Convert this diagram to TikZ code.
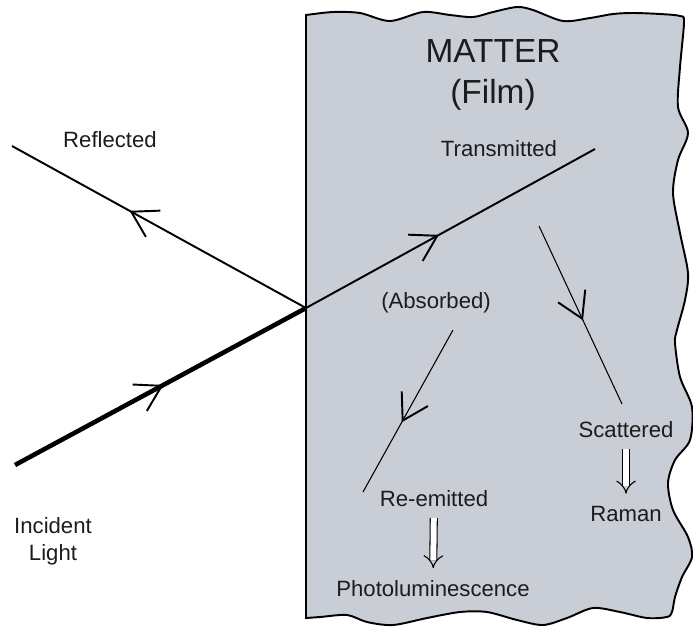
\documentclass[tikz,border=0pt]{standalone}
\usepackage{fontspec}
\setmainfont{Liberation Sans}
\usetikzlibrary{arrows.meta,decorations.markings}
\definecolor{filmGray}{RGB}{201,205,214}
\definecolor{inkGray}{RGB}{28,28,28}

\begin{document}
\begin{tikzpicture}[x=0.02cm, y=-0.02cm,
    labelStyle/.style={font=\fontsize{12.6}{15.3}\selectfont, text=inkGray, inner sep=2pt},
    titleStyle/.style={font=\fontsize{19}{23.8}\selectfont, text=inkGray, align=center},
    rayStyle/.style={draw=black, line width=1.1pt},
    beamStyle/.style={draw=black, line width=2.6pt},
    thinStyle/.style={draw=black, line width=0.6pt},
    tipStyle/.style={postaction={decorate}, decoration={markings, mark=at position #1 with {\arrow{Straight Barb[length=0.5cm, width=0.6cm, line width=1.1pt 0]}}}},
    dblStyle/.style={double, double distance=3.4pt, line width=0.6pt, arrows={-Implies}, shorten <=4pt, shorten >=5pt}]

    \useasboundingbox (0,0) rectangle (693,630);

    % the film
    \draw[fill=filmGray, line width=1.1pt] (306,618) -- (306,15) -- plot[smooth] coordinates {
        (306,15) (333,12) (360,13) (390,21) (423,12) (450,15) (473,17) (493,12) (517,7)
        (533,10) (563,21) (590,18) (613,14) (633,13) (660,14) (680,16) (684,22)
        (680,67) (678,107) (688,133) (678,160) (673,193) (680,233) (688,273) (685,300)
        (677,330) (675,343) (680,377) (692,407) (690,440) (675,460) (668,483) (673,510)
        (688,537) (692,557) (682,577) (675,597) (672,612) (667,617) (647,618) (620,612)
        (593,608) (567,618) (543,625) (517,620) (487,612) (460,612) (427,618) (393,625)
        (367,622) (347,615) (320,617) (306,618)} -- cycle;
    \draw[line width=1.6pt] (306,15) -- (306,618);

    \coordinate (hit)       at (306,308);
    \coordinate (inStart)   at (15,465);
    \coordinate (reflEnd)   at (12,146);
    \coordinate (transEnd)  at (595,149);
    \coordinate (scatStart) at (539,226);
    \coordinate (scatEnd)   at (622,404);
    \coordinate (emitStart) at (453,330);
    \coordinate (emitEnd)   at (363,492);

    % rays
    \draw[beamStyle, tipStyle=0.51] (inStart) -- (hit);
    \draw[rayStyle, tipStyle=0.6]   (hit) -- (reflEnd);
    \draw[rayStyle, tipStyle=0.46]  (hit) -- (transEnd);
    \draw[thinStyle, tipStyle=0.53] (scatStart) -- (scatEnd);
    \draw[thinStyle, tipStyle=0.57] (emitStart) -- (emitEnd);

    % labels
    \node[titleStyle] (matter)   at (493,75)  {MATTER\\(Film)};
    \node[labelStyle] (refl)     at (110,140) {Reflected};
    \node[labelStyle, align=center] (incident) at (53,541) {Incident\\Light};
    \node[labelStyle] (trans)    at (499,149) {Transmitted};
    \node[labelStyle] (absorb)   at (436,303) {(Absorbed)};
    \node[labelStyle] (scat)     at (626,430) {Scattered};
    \node[labelStyle] (raman)    at (626,514) {Raman};
    \node[labelStyle] (reemit)   at (434,499) {Re-emitted};
    \node[labelStyle] (photo)    at (433,589) {Photoluminescence};

    \draw[dblStyle] (reemit) -- (photo);
    \draw[dblStyle] (scat) -- (raman);
\end{tikzpicture}
\end{document}
